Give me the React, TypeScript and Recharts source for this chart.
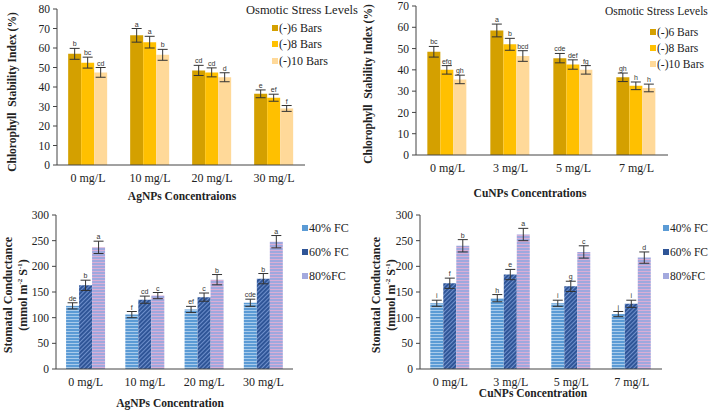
import React from 'react'
import { BarChart, Bar, XAxis, YAxis, ErrorBar, LabelList } from 'recharts'

// categories
const agCats = ['0 mg/L', '10 mg/L', '20 mg/L', '30 mg/L']
const cuCats = ['0 mg/L', '3 mg/L', '5 mg/L', '7 mg/L']

// chlorophyll stability index, AgNPs
const agCsi6 = [57, 66.5, 48.5, 36.5]
const agCsi8 = [52.5, 63, 47.5, 34.5]
const agCsi10 = [47.5, 56.5, 45, 29]
const agCsiErr6 = [2.8, 3.5, 2.6, 2]
const agCsiErr8 = [2.8, 3, 2.3, 1.8]
const agCsiErr10 = [2.5, 2.8, 2.3, 1.5]
const agCsiLet6 = ['b', 'a', 'cd', 'e']
const agCsiLet8 = ['bc', 'a', 'cd', 'ef']
const agCsiLet10 = ['cd', 'b', 'd', 'f']

// chlorophyll stability index, CuNPs
const cuCsi6 = [48.5, 58.5, 45.5, 36.5]
const cuCsi8 = [40, 52, 42.5, 32.5]
const cuCsi10 = [35.5, 46.5, 40, 31.5]
const cuCsiErr6 = [2.5, 3, 2.2, 2]
const cuCsiErr8 = [2, 2.8, 2.2, 1.8]
const cuCsiErr10 = [2, 2.5, 2, 1.8]
const cuCsiLet6 = ['bc', 'a', 'cde', 'gh']
const cuCsiLet8 = ['efg', 'b', 'def', 'h']
const cuCsiLet10 = ['gh', 'bcd', 'fg', 'h']

// stomatal conductance, AgNPs
const agSc40 = [123, 106, 116, 129]
const agSc60 = [163, 135, 140, 176]
const agSc80 = [237, 143, 174, 248]
const agScErr40 = [6, 6, 6, 7]
const agScErr60 = [10, 7, 8, 10]
const agScErr80 = [12, 6, 10, 12]
const agScLet40 = ['de', 'f', 'ef', 'cde']
const agScLet60 = ['b', 'cd', 'c', 'b']
const agScLet80 = ['a', 'c', 'b', 'a']

// stomatal conductance, CuNPs
const cuSc40 = [128, 138, 128, 107]
const cuSc60 = [167, 184, 161, 127]
const cuSc80 = [240, 262, 228, 217]
const cuScErr40 = [6, 7, 6, 5]
const cuScErr60 = [10, 10, 10, 7]
const cuScErr80 = [12, 12, 12, 11]
const cuScLet40 = ['i', 'h', 'i', 'j']
const cuScLet60 = ['f', 'e', 'g', 'i']
const cuScLet80 = ['b', 'a', 'c', 'd']

const osmoticNames = ['(-)6 Bars', '(-)8 Bars', '(-)10 Bars']
const fcNames = ['40% FC', '60% FC', '80%FC']

const csiTicks = [0, 10, 20, 30, 40, 50, 60, 70, 80]
const csiTicks70 = [0, 10, 20, 30, 40, 50, 60, 70]
const scTicks = [0, 50, 100, 150, 200, 250, 300]

const serif = '"Liberation Serif", "Times New Roman", serif'
const gold = ['#D4A000', '#FFC000', '#FFD999']
const goldKey = gold
const blueFill = ['url(#p40)', 'url(#p60)', 'url(#p80)']
const blueKey = ['#5B9BD5', '#2F5597', '#A3A9DE']

function range(max: number, step: number) {
  const out: number[] = []
  for (let v = 0; v <= max + 1e-9; v += step) out.push(+v.toFixed(3))
  return out
}

function letterLabel(letters: string[], errs: number[]) {
  return (p: any) => {
    const { x, y, width, height, index, value } = p
    if (value == null || !value) return null
    const top = y - (errs[index] * height) / value
    return (
      <text x={x + width / 2} y={top - 2} textAnchor="middle" fontSize={7}
        fontFamily='"Liberation Sans", Arial, sans-serif' fill="#333">
        {letters[index]}
      </text>
    )
  }
}

type PanelProps = {
  left: number
  top: number
  width: number
  height: number
  margin: { top: number; right: number; left: number; bottom: number }
  yWidth: number
  xHeight: number
  cats: string[]
  series: number[][]
  errs: number[][]
  letters: string[][]
  fills: string[]
  yMax: number
  ticks: number[]
  minorStep: number
  gap: string
}

function Panel(props: PanelProps) {
  const { cats, series, errs, letters, fills } = props
  const data = cats.map((c, i) => ({
    name: c,
    s0: series[0][i], s1: series[1][i], s2: series[2][i],
    e0: errs[0][i], e1: errs[1][i], e2: errs[2][i],
  }))
  const xTick = { fontSize: 12, fontFamily: serif, fill: '#222' }
  const yTick = { fontSize: 11.5, fontFamily: serif, fill: '#222' }
  return (
    <div style={{ position: 'absolute', left: props.left, top: props.top }}>
      <BarChart width={props.width} height={props.height} data={data} margin={props.margin}
        barCategoryGap={props.gap} barGap={0}>
        <XAxis dataKey="name" interval={0} tickLine={false} tickMargin={2} height={props.xHeight}
          axisLine={{ stroke: '#444' }} tick={xTick} />
        <YAxis domain={[0, props.yMax]} ticks={props.ticks} width={props.yWidth} tickSize={4}
          tickMargin={3} axisLine={{ stroke: '#444' }} tickLine={{ stroke: '#444' }} tick={yTick}
          allowDataOverflow />
        <YAxis yAxisId="minor" domain={[0, props.yMax]} ticks={range(props.yMax, props.minorStep)} mirror
          tickSize={2} axisLine={false} tickLine={{ stroke: '#666' }} tick={false} />
        {[0, 1, 2].map(k => (
          <Bar key={k} dataKey={`s${k}`} fill={fills[k]} isAnimationActive={false}>
            <ErrorBar dataKey={`e${k}`} width={5} strokeWidth={1} stroke="#333" isAnimationActive={false} />
            <LabelList dataKey={`s${k}`} content={letterLabel(letters[k], errs[k])} />
          </Bar>
        ))}
      </BarChart>
    </div>
  )
}

function Abs({ x, y, children, style }: any) {
  return (
    <div style={{ position: 'absolute', left: x, top: y, fontFamily: serif, color: '#222', whiteSpace: 'nowrap', ...style }}>
      {children}
    </div>
  )
}

function RotLabel({ cx, cy, children, size = 11.5 }: any) {
  return (
    <div style={{
      position: 'absolute', left: cx, top: cy, transform: 'translate(-50%, -50%) rotate(-90deg)',
      fontFamily: serif, fontWeight: 'bold', fontSize: size, color: '#222', whiteSpace: 'nowrap',
      textAlign: 'center', lineHeight: '12px',
    }}>
      {children}
    </div>
  )
}

function CenterLabel({ cx, cy, children }: any) {
  return (
    <div style={{
      position: 'absolute', left: cx, top: cy, transform: 'translate(-50%, -50%)',
      fontFamily: serif, fontWeight: 'bold', fontSize: 11.5, color: '#222', whiteSpace: 'nowrap',
    }}>
      {children}
    </div>
  )
}

function LegendItems({ x, ys, names, colors, size = 12 }: any) {
  return (
    <>
      {names.map((n: string, i: number) => (
        <React.Fragment key={n}>
          <div style={{ position: 'absolute', left: x, top: ys[i] - 3, width: 6, height: 6, background: colors[i] }} />
          <Abs x={x + 7} y={ys[i] - 8} style={{ fontSize: size, lineHeight: '16px' }}>{n}</Abs>
        </React.Fragment>
      ))}
    </>
  )
}

export default function App() {
  return (
    <div style={{ position: 'absolute', left: 0, top: 0, width: 709, height: 411, background: '#fff', overflow: 'hidden' }}>
      <svg width={0} height={0} style={{ position: 'absolute' }}>
        <defs>
          <pattern id="p40" width={4} height={3} patternUnits="userSpaceOnUse">
            <rect width={4} height={3} fill="#5B9BD5" />
            <rect width={4} height={1} fill="#A9CBEB" />
          </pattern>
          <pattern id="p60" width={3} height={3} patternUnits="userSpaceOnUse" patternTransform="rotate(45)">
            <rect width={3} height={3} fill="#2F5597" />
            <rect width={1} height={3} fill="#6E8FCB" />
          </pattern>
          <pattern id="p80" width={4} height={3} patternUnits="userSpaceOnUse">
            <rect width={4} height={3} fill="#9FA8DE" />
            <rect width={4} height={1} fill="#D9AED6" />
          </pattern>
        </defs>
      </svg>

      {/* top left */}
      <Panel left={0} top={0} width={355} height={205} margin={{ top: 9, right: 50, left: 0, bottom: 0 }}
        yWidth={57} xHeight={40} cats={agCats} series={[agCsi6, agCsi8, agCsi10]}
        errs={[agCsiErr6, agCsiErr8, agCsiErr10]} letters={[agCsiLet6, agCsiLet8, agCsiLet10]}
        fills={gold} yMax={80} ticks={csiTicks} minorStep={2} gap="18%" />
      <RotLabel cx={12} cy={92}>Chlorophyll&nbsp; Stability Index (%)</RotLabel>
      <CenterLabel cx={182} cy={196}>AgNPs Concentraions</CenterLabel>
      <Abs x={246} y={3} style={{ fontSize: 12.5 }}>Osmotic Stress Levels</Abs>
      <LegendItems x={272} ys={[28, 44, 61]} names={osmoticNames} colors={goldKey} />

      {/* top right */}
      <Panel left={355} top={0} width={354} height={205} margin={{ top: 6, right: 41, left: 0, bottom: 0 }}
        yWidth={61} xHeight={50} cats={cuCats} series={[cuCsi6, cuCsi8, cuCsi10]}
        errs={[cuCsiErr6, cuCsiErr8, cuCsiErr10]} letters={[cuCsiLet6, cuCsiLet8, cuCsiLet10]}
        fills={gold} yMax={70} ticks={csiTicks70} minorStep={2} gap="18%" />
      <RotLabel cx={368} cy={84}>Chlorophyll&nbsp; Stability Index (%)</RotLabel>
      <CenterLabel cx={530} cy={193}>CuNPs Concentrations</CenterLabel>
      <Abs x={605} y={5} style={{ fontSize: 11.5 }}>Osmotic Stress Levels</Abs>
      <LegendItems x={650} ys={[32, 48, 64]} names={osmoticNames} colors={goldKey} size={11.5} />

      {/* bottom left */}
      <Panel left={0} top={205} width={355} height={206} margin={{ top: 10, right: 62, left: 0, bottom: 0 }}
        yWidth={56} xHeight={42} cats={agCats} series={[agSc40, agSc60, agSc80]}
        errs={[agScErr40, agScErr60, agScErr80]} letters={[agScLet40, agScLet60, agScLet80]}
        fills={blueFill} yMax={300} ticks={scTicks} minorStep={10} gap="17%" />
      <RotLabel cx={15} cy={295} size={12}>Stomatal Conductance<br />(mmol m<sup style={{ fontSize: 7 }}>-2</sup> S<sup style={{ fontSize: 7 }}>-1</sup>)</RotLabel>
      <CenterLabel cx={170} cy={403}>AgNPs Concentration</CenterLabel>
      <LegendItems x={302} ys={[228, 252, 276]} names={fcNames} colors={blueKey} />

      {/* bottom right */}
      <Panel left={355} top={205} width={354} height={206} margin={{ top: 10, right: 47, left: 0, bottom: 0 }}
        yWidth={65} xHeight={42} cats={cuCats} series={[cuSc40, cuSc60, cuSc80]}
        errs={[cuScErr40, cuScErr60, cuScErr80]} letters={[cuScLet40, cuScLet60, cuScLet80]}
        fills={blueFill} yMax={300} ticks={scTicks} minorStep={10} gap="17%" />
      <RotLabel cx={383} cy={295} size={12}>Stomatal Conductance<br />(mmol m<sup style={{ fontSize: 7 }}>-2</sup> S<sup style={{ fontSize: 7 }}>-1</sup>)</RotLabel>
      <CenterLabel cx={533} cy={393}>CuNPs Concentration</CenterLabel>
      <LegendItems x={663} ys={[228, 252, 276]} names={fcNames} colors={blueKey} size={11.5} />
    </div>
  )
}
